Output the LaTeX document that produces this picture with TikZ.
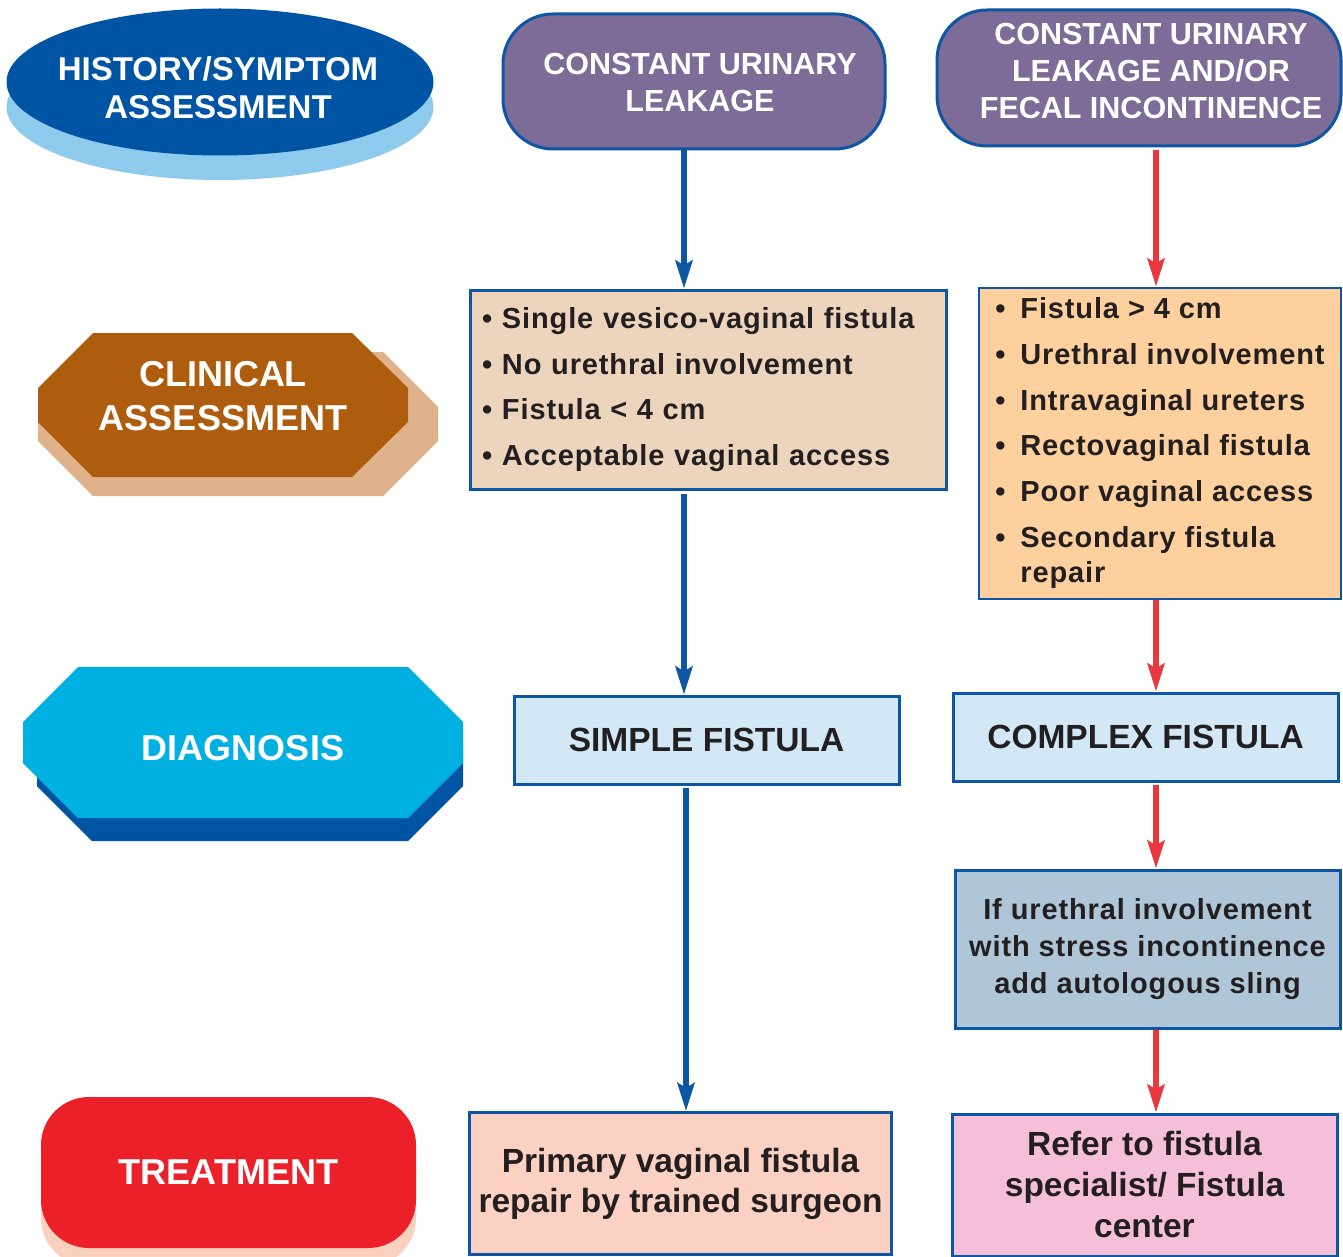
\documentclass[tikz,border=0pt]{standalone}
\usepackage{fontspec}
\setmainfont{Liberation Sans}
\usetikzlibrary{arrows.meta}

\definecolor{navy}{HTML}{0054A4}
\definecolor{edgeblue}{HTML}{0D56A3}
\definecolor{skyblue}{HTML}{8ECAEB}
\definecolor{plum}{HTML}{7D6B98}
\definecolor{rust}{HTML}{AE5D0E}
\definecolor{tanshade}{HTML}{E0B28B}
\definecolor{cyanbox}{HTML}{00B0E0}
\definecolor{redbox}{HTML}{EC2028}
\definecolor{blush}{HTML}{FAD0BE}
\definecolor{beige}{HTML}{EDD5BD}
\definecolor{apricot}{HTML}{FDD09D}
\definecolor{paleblue}{HTML}{D3E8F7}
\definecolor{steel}{HTML}{AFC6D8}
\definecolor{salmon}{HTML}{FAD1C2}
\definecolor{pinkbox}{HTML}{F6BFD9}
\definecolor{redarrow}{HTML}{EA3840}
\definecolor{ink}{HTML}{231F20}

\begin{document}
\begin{tikzpicture}[x=1pt,y=-1pt,
  whitehead/.style={text=white,align=center,inner sep=0pt},
  infobox/.style={draw=edgeblue,line width=3pt,text=ink,inner sep=0pt,align=center},
  leakbox/.style={draw=edgeblue,line width=3pt,fill=plum,rounded corners=50pt},
  bluearrow/.style={draw=edgeblue,line width=5.5pt,-{Stealth[length=28pt,width=17pt,inset=5pt]}},
  redpath/.style={draw=redarrow,line width=5.5pt,-{Stealth[length=28pt,width=17pt,inset=5pt]}},
  bodyfont/.style={font=\fontsize{29pt}{#1}\selectfont\bfseries\addfontfeatures{LetterSpace=3}},
  bigfont/.style={font=\fontsize{33.5pt}{#1}\selectfont\bfseries}
]
\useasboundingbox (0,0) rectangle (1343,1257);

% ---- left column: stage labels ----
% history / symptom assessment (ellipse with lighter shadow)
\fill[skyblue] (220,107) ellipse [x radius=213.5pt, y radius=73pt];
\fill[navy] (220,82) ellipse [x radius=213.5pt, y radius=73.5pt];
\node[whitehead,font=\fontsize{33pt}{38pt}\selectfont\bfseries] (history) at (218,88) {HISTORY/SYMPTOM\\ASSESSMENT};

% clinical assessment (octagon with shadow)
\fill[tanshade] (93,352) -- (383,352) -- (438,407) -- (438,441) -- (383,496) -- (93,496) -- (38,441) -- (38,407) -- cycle;
\fill[rust] (93,333) -- (352,333) -- (408,388) -- (408,422) -- (352,477) -- (93,477) -- (38,422) -- (38,388) -- cycle;
\node[whitehead,font=\fontsize{36pt}{44pt}\selectfont\bfseries] (clinical) at (223,396.5) {CLINICAL\\ASSESSMENT};

% diagnosis (octagon with shadow)
\fill[navy] (92,690) -- (408,690) -- (463,745) -- (463,786) -- (408,841) -- (92,841) -- (37,786) -- (37,745) -- cycle;
\fill[cyanbox] (78,667) -- (408,667) -- (463,722) -- (463,763) -- (408,818) -- (78,818) -- (23,763) -- (23,722) -- cycle;
\node[whitehead,font=\fontsize{36pt}{44pt}\selectfont\bfseries] (diagnosis) at (243,748) {DIAGNOSIS};

% treatment (rounded box with shadow)
\fill[blush, rounded corners=48pt] (41,1115) rectangle (416,1266);
\node[whitehead,fill=redbox,rounded corners=48pt,minimum width=375pt,minimum height=151pt,
      font=\fontsize{36pt}{44pt}\selectfont\bfseries] (treatment) at (228.5,1172.5) {TREATMENT};

% ---- presenting symptoms ----
\node[leakbox,minimum width=382pt,minimum height=135pt] (leak1) at (694,81.5) {};
\node[whitehead,font=\fontsize{30.5pt}{37pt}\selectfont\bfseries] (leak1text) at (700,82.5) {CONSTANT URINARY\\LEAKAGE};

\node[leakbox,minimum width=404pt,minimum height=136pt] (leak2) at (1139,78) {};
\node[whitehead,font=\fontsize{30.5pt}{37pt}\selectfont\bfseries] (leak2text) at (1151,71.5) {CONSTANT URINARY\\LEAKAGE AND/OR\\FECAL INCONTINENCE};

% ---- clinical findings ----
\node[infobox,fill=beige,minimum width=476pt,minimum height=199pt,text width=452pt,align=left,
      bodyfont=45.6pt] (critA) at (708,389.5)
  {\makebox[20pt][l]{•}Single vesico-vaginal fistula\\
   \makebox[20pt][l]{•}No urethral involvement\\
   \makebox[20pt][l]{•}Fistula < 4 cm\\
   \makebox[20pt][l]{•}Acceptable vaginal access};

\node[infobox,fill=apricot,line width=2pt,minimum width=362pt,minimum height=311pt,align=left,
      bodyfont=35pt] (critB) at (1160,443)
  {\makebox[25pt][l]{•}Fistula > 4 cm\\[10.8pt]
   \makebox[25pt][l]{•}Urethral involvement\\[10.8pt]
   \makebox[25pt][l]{•}Intravaginal ureters\\[10.8pt]
   \makebox[25pt][l]{•}Rectovaginal fistula\\[10.8pt]
   \makebox[25pt][l]{•}Poor vaginal access\\[10.8pt]
   \makebox[25pt][l]{•}Secondary fistula\\
   \makebox[25pt][l]{}repair};

% ---- diagnosis ----
\node[infobox,fill=paleblue,minimum width=385pt,minimum height=88pt,bigfont=40pt] (simple) at (706.5,740) {SIMPLE FISTULA};
\node[infobox,fill=paleblue,minimum width=385pt,minimum height=88pt,bigfont=40pt] (complex) at (1145.5,737) {COMPLEX FISTULA};

\node[infobox,fill=steel,minimum width=385pt,minimum height=158pt,bodyfont=37pt] (sling) at (1147.5,949)
  {If urethral involvement\\with stress incontinence\\add autologous sling};

% ---- treatment ----
\node[infobox,fill=salmon,minimum width=422pt,minimum height=142pt,bigfont=40pt] (primary) at (680.5,1183.5)
  {Primary vaginal fistula\\repair by trained surgeon};
\node[infobox,fill=pinkbox,minimum width=385pt,minimum height=142pt,bigfont=41pt] (refer) at (1144.5,1185)
  {Refer to fistula\\specialist/ Fistula\\center};

% ---- connectors ----
\coordinate (colL) at (684,0);
\coordinate (colL2) at (686,0);
\coordinate (colR) at (1156,0);

\draw[bluearrow] (leak1.south -| colL) -- (critA.north -| colL);
\draw[bluearrow] ([yshift=-3pt]critA.south -| colL) -- (simple.north -| colL);
\draw[bluearrow] ([yshift=-2pt]simple.south -| colL2) -- (primary.north -| colL2);

\draw[redpath] ([yshift=-3pt]leak2.south -| colR) -- (critB.north -| colR);
\draw[redpath] (critB.south -| colR) -- (complex.north -| colR);
\draw[redpath] ([yshift=-2pt]complex.south -| colR) -- (sling.north -| colR);
\draw[redpath] (sling.south -| colR) -- (refer.north -| colR);
\end{tikzpicture}
\end{document}
